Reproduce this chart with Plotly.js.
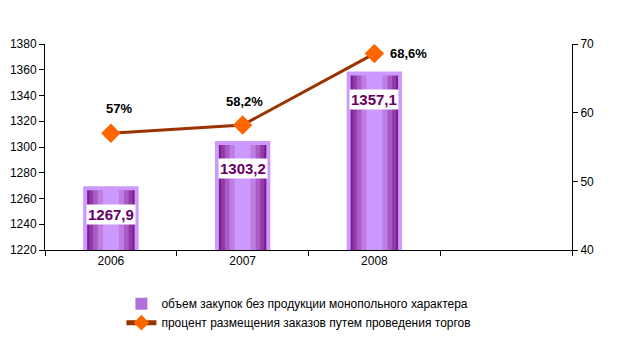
<!DOCTYPE html>
<html>
<head>
<meta charset="utf-8">
<script src="https://cdn.plot.ly/plotly-3.0.1.min.js"></script>
<style>html,body{margin:0;padding:0;background:#fff;}#chart{width:623px;height:354px;}</style>
</head>
<body>
<div id="chart"></div>
<script>
var categories = ['2006', '2007', '2008'];
var volume = [1267.9, 1303.2, 1357.1];
var volumeLabels = ['1267,9', '1303,2', '1357,1'];
var percent = [57, 58.2, 68.6];
var percentLabels = ['57%', '58,2%', '68,6%'];
var allCategories = ['2006', '2007', '2008', ' '];
var volumeName = 'объем закупок без продукции монопольного характера';
var percentName = 'процент размещения заказов путем проведения торгов';

var FONT = 'Liberation Sans, Arial, sans-serif';
var bands = [
  {w: 0.39, c: '#7a1c8a'},
  {w: 0.33, c: '#9238a8'},
  {w: 0.27, c: '#a95ac6'},
  {w: 0.20, c: '#bd7ee0'},
  {w: 0.12, c: '#cc99ff'}
];
var traces = [];
// legend-bearing base bar
traces.push({
  type: 'bar', x: categories, y: volume, width: 0.39, name: volumeName,
  marker: {color: '#b070d8', line: {width: 0}}, showlegend: true
});
bands.forEach(function (b) {
  traces.push({
    type: 'bar', x: categories, y: volume, width: b.w,
    marker: {color: b.c, line: {width: 0}},
    showlegend: false, hoverinfo: 'skip'
  });
});
traces.push({
  type: 'bar', x: categories, y: volume, width: 0.39,
  marker: {color: 'rgba(0,0,0,0)', line: {width: 4, color: '#cc99ff'}},
  showlegend: false, hoverinfo: 'skip'
});
traces.push({
  type: 'scatter', mode: 'lines+markers', x: categories, y: percent, yaxis: 'y2',
  name: percentName,
  line: {color: '#993300', width: 3},
  marker: {symbol: 'diamond', size: 15, color: '#ff6600', line: {width: 0}}
});

var annotations = [];
for (var i = 0; i < categories.length; i++) {
  annotations.push({
    x: i, y: volume[i], xref: 'x', yref: 'y',
    text: '<b>' + volumeLabels[i] + '</b>', showarrow: false,
    yshift: -26, bgcolor: '#ffffff', borderpad: 1,
    font: {family: FONT, size: 15, color: '#660066'}
  });
}
var pShift = [[8, 25], [2, 24], [14, 0]];
for (var j = 0; j < categories.length; j++) {
  annotations.push({
    x: j, y: percent[j], xref: 'x', yref: 'y2',
    text: '<b>' + percentLabels[j] + '</b>', showarrow: false,
    xanchor: j === 2 ? 'left' : 'center',
    xshift: pShift[j][0], yshift: pShift[j][1],
    font: {family: FONT, size: 13, color: '#000000'}
  });
}

var layout = {
  width: 623, height: 354,
  margin: {l: 45, r: 51, t: 44, b: 104},
  paper_bgcolor: '#ffffff', plot_bgcolor: '#ffffff',
  barmode: 'overlay',
  font: {family: FONT, size: 12, color: '#000'},
  xaxis: {
    type: 'category', categoryorder: 'array', categoryarray: allCategories,
    range: [-0.5, 3.5], tickson: 'boundaries', ticks: 'outside', ticklen: 5,
    tickcolor: '#000', showline: true, linecolor: '#000', linewidth: 1,
    showgrid: false, zeroline: false, fixedrange: true,
    tickfont: {family: FONT, size: 12, color: '#000'}
  },
  yaxis: {
    range: [1220, 1380], dtick: 20, ticks: 'outside', ticklen: 5, tickcolor: '#000',
    showline: true, linecolor: '#000', linewidth: 1, showgrid: false, zeroline: false,
    tickfont: {family: FONT, size: 12, color: '#000'}
  },
  yaxis2: {
    range: [40, 70], dtick: 10, overlaying: 'y', side: 'right', anchor: 'x',
    ticks: 'outside', ticklen: 5, tickcolor: '#000',
    showline: true, linecolor: '#000', linewidth: 1, showgrid: false, zeroline: false,
    tickfont: {family: FONT, size: 12, color: '#000'}
  },
  showlegend: true,
  legend: {
    x: 0.145, xanchor: 'left', y: -0.19, yanchor: 'top', orientation: 'v',
    traceorder: 'normal', itemsizing: 'constant',
    font: {family: FONT, size: 12, color: '#000'}, itemwidth: 30,
    tracegroupgap: 4, bgcolor: 'rgba(0,0,0,0)'
  },
  annotations: annotations
};
Plotly.newPlot('chart', traces, layout, {displayModeBar: false, staticPlot: true});
</script>
</body>
</html>
